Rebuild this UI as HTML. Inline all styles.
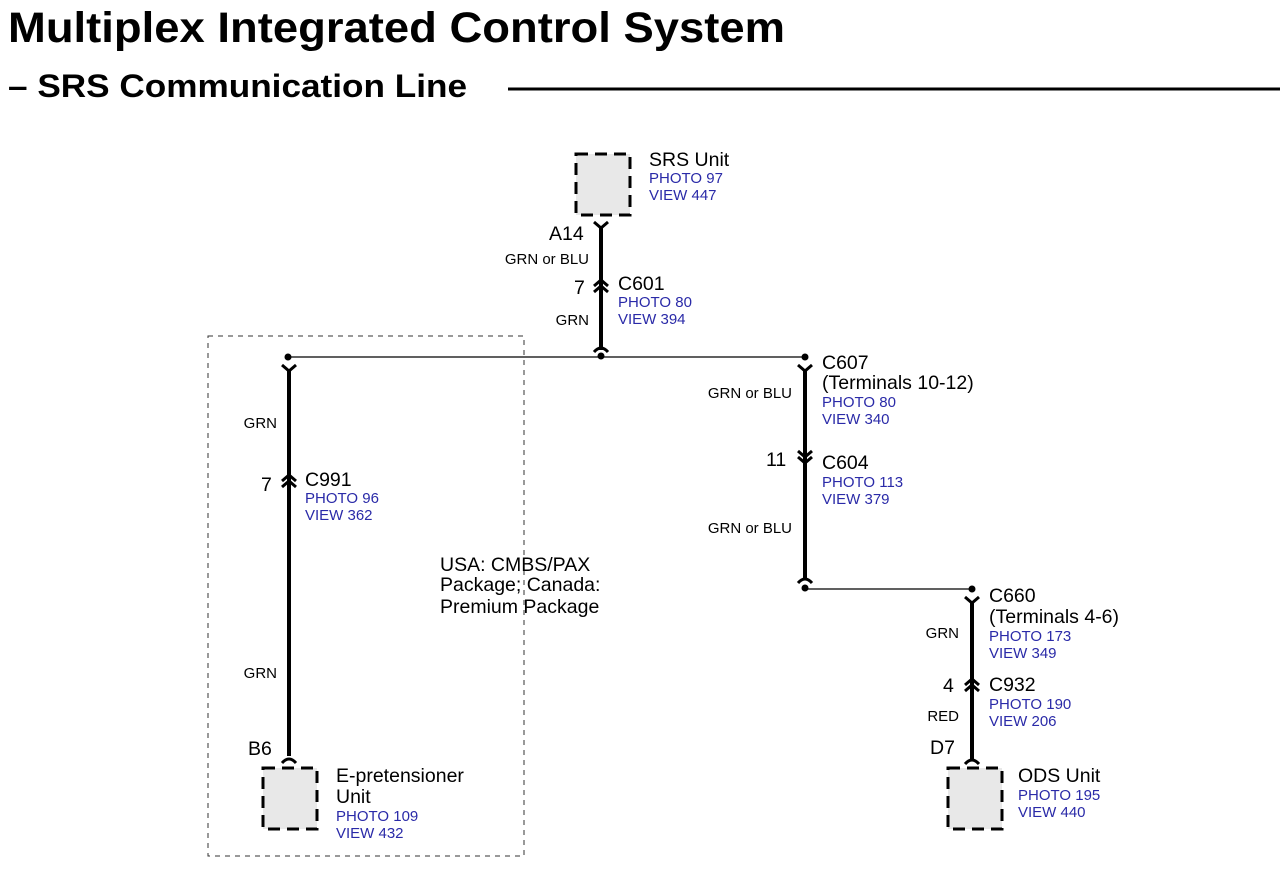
<!DOCTYPE html>
<html><head><meta charset="utf-8"><style>
html,body{margin:0;padding:0;background:#fff;}
svg{display:block;}
text{font-family:"Liberation Sans",Arial,sans-serif;}
.t{font-size:19.5px;fill:#000;}
.b{font-size:15px;fill:#2a2aa8;}
.w{font-size:15px;fill:#000;}
.wire{stroke:#000;stroke-width:4;fill:none;}
.sym{stroke:#000;stroke-width:3;fill:none;}
.thin{stroke:#000;stroke-width:1.3;fill:none;}
.box{fill:#e8e8e8;stroke:#000;stroke-width:3;stroke-dasharray:12,7;}
</style></head><body>
<svg width="1286" height="870" viewBox="0 0 1286 870" xmlns="http://www.w3.org/2000/svg">
<text x="8" y="42" textLength="777" lengthAdjust="spacingAndGlyphs" style="font-size:43px;font-weight:bold">Multiplex Integrated Control System</text>
<text x="8" y="97" textLength="459" lengthAdjust="spacingAndGlyphs" style="font-size:32px;font-weight:bold">– SRS Communication Line</text>
<line x1="508" y1="89" x2="1280" y2="89" stroke="#000" stroke-width="3"/>

<rect x="208" y="336" width="316" height="520" fill="none" stroke="#333" stroke-width="1" stroke-dasharray="5,5"/>

<rect class="box" x="576" y="154" width="54" height="61"/>
<text class="t" x="649" y="166">SRS Unit</text>
<text class="b" x="649" y="183">PHOTO 97</text>
<text class="b" x="649" y="200">VIEW 447</text>
<line class="wire" x1="601" y1="226" x2="601" y2="350"/>
<path class="sym" d="M594,222 L601,228 L608,222"/>
<text class="t" x="549" y="240">A14</text>
<text class="w" x="589" y="264" text-anchor="end">GRN or BLU</text>
<path class="sym" d="M594,286 L601,280 L608,286 M594,292 L601,286 L608,292"/>
<text class="t" x="574" y="294">7</text>
<text class="t" x="618" y="290">C601</text>
<text class="b" x="618" y="307">PHOTO 80</text>
<text class="b" x="618" y="324">VIEW 394</text>
<text class="w" x="589" y="325" text-anchor="end">GRN</text>
<path class="sym" d="M594,352 Q601,344 608,352"/>
<circle cx="601" cy="356" r="3.5"/>

<line class="thin" x1="288" y1="357" x2="805" y2="357"/>

<circle cx="288" cy="357" r="3.5"/>
<path class="sym" d="M282,365 L289,371 L296,365"/>
<line class="wire" x1="289" y1="369" x2="289" y2="756"/>
<text class="w" x="277" y="428" text-anchor="end">GRN</text>
<path class="sym" d="M282,481 L289,475 L296,481 M282,487 L289,481 L296,487"/>
<text class="t" x="261" y="491">7</text>
<text class="t" x="305" y="486">C991</text>
<text class="b" x="305" y="503">PHOTO 96</text>
<text class="b" x="305" y="520">VIEW 362</text>
<text class="w" x="277" y="678" text-anchor="end">GRN</text>
<text class="t" x="248" y="755">B6</text>
<path class="sym" d="M282,763 Q289,755 296,763"/>
<rect class="box" x="263" y="768" width="54" height="61"/>
<text class="t" x="336" y="782">E-pretensioner</text>
<text class="t" x="336" y="803">Unit</text>
<text class="b" x="336" y="821">PHOTO 109</text>
<text class="b" x="336" y="838">VIEW 432</text>

<text class="t" x="440" y="571">USA: CMBS/PAX</text>
<text class="t" x="440" y="591">Package; Canada:</text>
<text class="t" x="440" y="613">Premium Package</text>

<circle cx="805" cy="357" r="3.5"/>
<path class="sym" d="M798,365 L805,371 L812,365"/>
<line class="wire" x1="805" y1="369" x2="805" y2="580"/>
<text class="t" x="822" y="369">C607</text>
<text class="t" x="822" y="389">(Terminals 10-12)</text>
<text class="b" x="822" y="407">PHOTO 80</text>
<text class="b" x="822" y="424">VIEW 340</text>
<text class="w" x="792" y="398" text-anchor="end">GRN or BLU</text>
<path class="sym" d="M798,451 L805,457 L812,451 M798,457 L805,463 L812,457"/>
<text class="t" x="766" y="466">11</text>
<text class="t" x="822" y="469">C604</text>
<text class="b" x="822" y="487">PHOTO 113</text>
<text class="b" x="822" y="504">VIEW 379</text>
<text class="w" x="792" y="533" text-anchor="end">GRN or BLU</text>
<path class="sym" d="M798,583 Q805,575 812,583"/>
<circle cx="805" cy="588" r="3.5"/>
<line class="thin" x1="805" y1="589" x2="972" y2="589"/>
<circle cx="972" cy="589" r="3.5"/>
<path class="sym" d="M965,597 L972,603 L979,597"/>
<line class="wire" x1="972" y1="601" x2="972" y2="759"/>
<text class="t" x="989" y="602">C660</text>
<text class="t" x="989" y="623">(Terminals 4-6)</text>
<text class="b" x="989" y="641">PHOTO 173</text>
<text class="b" x="989" y="658">VIEW 349</text>
<text class="w" x="959" y="638" text-anchor="end">GRN</text>
<path class="sym" d="M965,685 L972,679 L979,685 M965,691 L972,685 L979,691"/>
<text class="t" x="943" y="692">4</text>
<text class="t" x="989" y="691">C932</text>
<text class="b" x="989" y="709">PHOTO 190</text>
<text class="b" x="989" y="726">VIEW 206</text>
<text class="w" x="959" y="721" text-anchor="end">RED</text>
<text class="t" x="930" y="754">D7</text>
<path class="sym" d="M965,764 Q972,756 979,764"/>
<rect class="box" x="948" y="768" width="54" height="61"/>
<text class="t" x="1018" y="782">ODS Unit</text>
<text class="b" x="1018" y="800">PHOTO 195</text>
<text class="b" x="1018" y="817">VIEW 440</text>
</svg>
</body></html>
